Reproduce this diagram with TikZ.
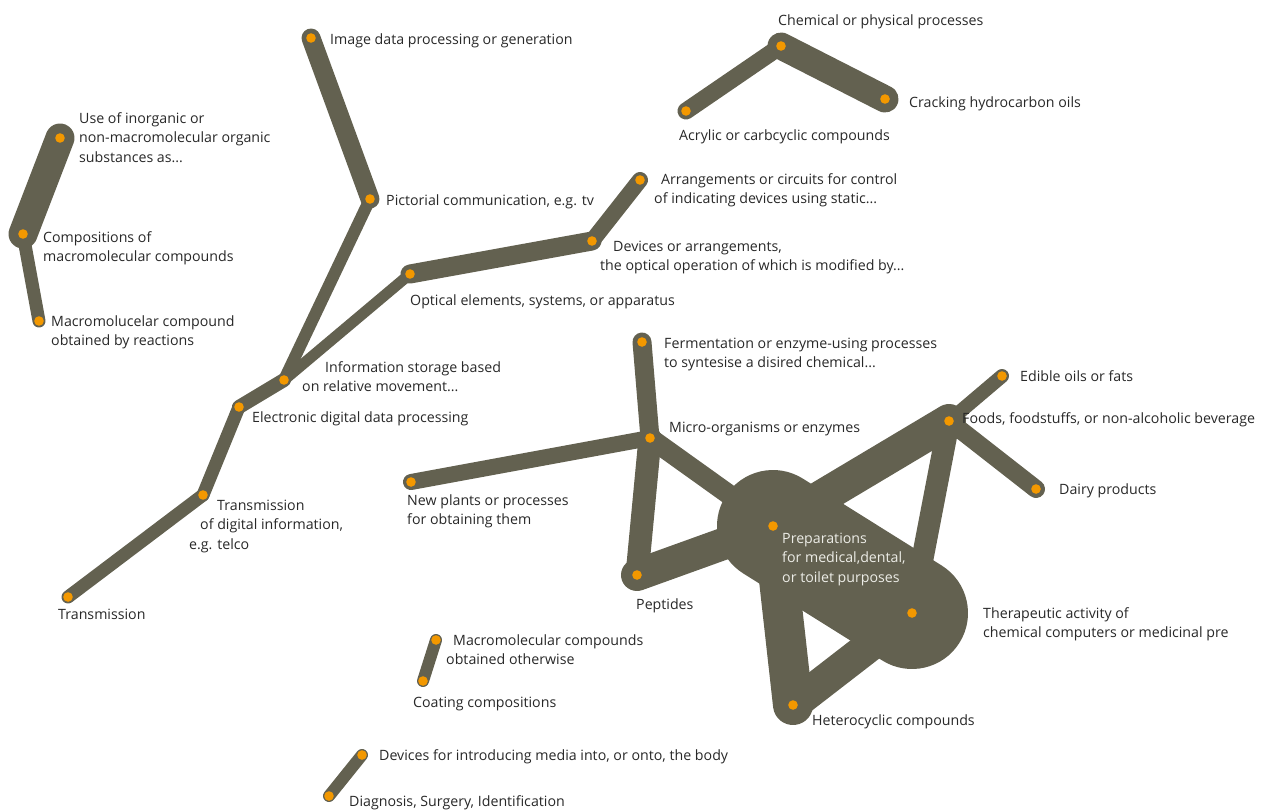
\documentclass[tikz,border=0pt]{standalone}
\usepackage{fontspec}
\setmainfont{Open Sans}
\definecolor{edgecol}{RGB}{99,97,80}
\definecolor{dotcol}{RGB}{243,152,0}
\definecolor{txtcol}{RGB}{40,40,40}
\definecolor{lighttxt}{RGB}{236,236,230}
\newcommand{\mylines}[1]{\begin{tabular}[t]{@{}l@{}}#1\end{tabular}}
\begin{document}
\begin{tikzpicture}[x=1pt,y=-1pt,
  link/.style={draw=edgecol,line cap=round,line join=round},
  dot/.style={circle,fill=dotcol,inner sep=0pt,minimum size=9.6pt},
  lbl/.style={anchor=base west,inner sep=0pt,text=txtcol,font=\fontsize{14.2}{19.5}\selectfont}]
\useasboundingbox (0,0) rectangle (1287,809);
% dot positions
\coordinate (img) at (311,38);
\coordinate (pic) at (370,199);
\coordinate (info) at (284,380);
\coordinate (elec) at (239,407);
\coordinate (tdig) at (203,495);
\coordinate (trans) at (68,597);
\coordinate (opt) at (410,274);
\coordinate (dev) at (592,241);
\coordinate (arr) at (640,180);
\coordinate (chem) at (781,46);
\coordinate (acr) at (686,111);
\coordinate (crack) at (885,99);
\coordinate (use) at (60,138);
\coordinate (comp) at (23,234);
\coordinate (macro) at (39,321);
\coordinate (ferm) at (642,342);
\coordinate (micro) at (650,438);
\coordinate (newp) at (411,482);
\coordinate (pep) at (637,575);
\coordinate (prep) at (773,526);
\coordinate (ther) at (912,613);
\coordinate (het) at (793,705);
\coordinate (foods) at (949,421);
\coordinate (edible) at (1002,376);
\coordinate (dairy) at (1036,489);
\coordinate (mco) at (436,640);
\coordinate (coat) at (423,681);
\coordinate (dmed) at (362,755);
\coordinate (diag) at (329,796);
% edges
\draw[link,line width=19] (img) -- (pic);
\draw[link,line width=12] (pic) -- (info);
\draw[link,line width=14] (info) -- (elec);
\draw[link,line width=11] (info) -- (opt);
\draw[link,line width=13] (elec) -- (tdig);
\draw[link,line width=13] (tdig) -- (trans);
\draw[link,line width=19] (opt) -- (dev);
\draw[link,line width=16] (dev) -- (arr);
\draw[link,line width=17] (chem) -- (acr);
\draw[link,line width=27] (chem) -- (crack);
\draw[link,line width=29] (use) -- (comp);
\draw[link,line width=13] (comp) -- (macro);
\draw[link,line width=19] (micro) -- (ferm);
\draw[link,line width=16] (micro) -- (newp);
\draw[link,line width=23] (micro) -- (pep);
\draw[link,line width=20] (micro) -- (prep);
\draw[link,line width=32] (pep) -- (prep);
\draw[link,line width=34] (prep) -- (foods);
\draw[link,line width=112] (prep) -- (ther);
\draw[link,line width=40] (prep) -- (het);
\draw[link,line width=32] (het) -- (ther);
\draw[link,line width=22] (foods) -- (ther);
\draw[link,line width=14] (foods) -- (edible);
\draw[link,line width=18] (foods) -- (dairy);
\draw[link,line width=12] (mco) -- (coat);
\draw[link,line width=12] (dmed) -- (diag);
% dots
\foreach \n in {img,pic,info,elec,tdig,trans,opt,dev,arr,chem,acr,crack,use,comp,macro,ferm,micro,newp,pep,prep,ther,het,foods,edible,dairy,mco,coat,dmed,diag}
  \node[dot] (d-\n) at (\n) {};
% labels
\node[lbl] (l-img) at (330,44) {Image data processing or generation};
\node[lbl] (l-pic) at (386,205) {Pictorial communication, e.g. tv};
\node[lbl] (l-info) at (302,372) {\mylines{\hspace*{23pt}Information storage based\\on relative movement...}};
\node[lbl] (l-elec) at (252,422) {Electronic digital data processing};
\node[lbl] (l-tdig) at (189,510) {\mylines{\hspace*{28pt}Transmission\\\hspace*{11pt}of digital information,\\e.g. telco}};
\node[lbl] (l-trans) at (58,619) {Transmission};
\node[lbl] (l-opt) at (410,305) {Optical elements, systems, or apparatus};
\node[lbl] (l-dev) at (600,251) {\mylines{\hspace*{13pt}Devices or arrangements,\\the optical operation of which is modified by...}};
\node[lbl] (l-arr) at (654,184) {\mylines{\hspace*{7pt}Arrangements or circuits for control\\of indicating devices using static...}};
\node[lbl] (l-chem) at (778,25) {Chemical or physical processes};
\node[lbl] (l-acr) at (679,140) {Acrylic or carbcyclic compounds};
\node[lbl] (l-crack) at (909,107) {Cracking hydrocarbon oils};
\node[lbl] (l-use) at (79,123) {\mylines{Use of inorganic or\\non-macromolecular organic\\substances as...}};
\node[lbl] (l-comp) at (43,242) {\mylines{Compositions of\\macromolecular compounds}};
\node[lbl] (l-macro) at (51,326) {\mylines{Macromolucelar compound\\obtained by reactions}};
\node[lbl] (l-ferm) at (664,348) {\mylines{Fermentation or enzyme-using processes\\to syntesise a disired chemical...}};
\node[lbl] (l-micro) at (669,432) {Micro-organisms or enzymes};
\node[lbl] (l-newp) at (407,505) {\mylines{New plants or processes\\for obtaining them}};
\node[lbl] (l-pep) at (636,609) {Peptides};
\node[lbl,text=lighttxt] (l-prep) at (782,543) {\mylines{Preparations\\for medical,dental,\\or toilet purposes}};
\node[lbl] (l-ther) at (983,618) {\mylines{Therapeutic activity of\\chemical computers or medicinal pre}};
\node[lbl] (l-het) at (812,725) {Heterocyclic compounds};
\node[lbl] (l-foods) at (962,423) {Foods, foodstuffs, or non-alcoholic beverage};
\node[lbl] (l-edible) at (1020,381) {Edible oils or fats};
\node[lbl] (l-dairy) at (1059,494) {Dairy products};
\node[lbl] (l-mco) at (446,645) {\mylines{\hspace*{7pt}Macromolecular compounds\\obtained otherwise}};
\node[lbl] (l-coat) at (413,707) {Coating compositions};
\node[lbl] (l-dmed) at (379,760) {Devices for introducing media into, or onto, the body};
\node[lbl] (l-diag) at (349,806) {Diagnosis, Surgery, Identification};
\end{tikzpicture}
\end{document}
